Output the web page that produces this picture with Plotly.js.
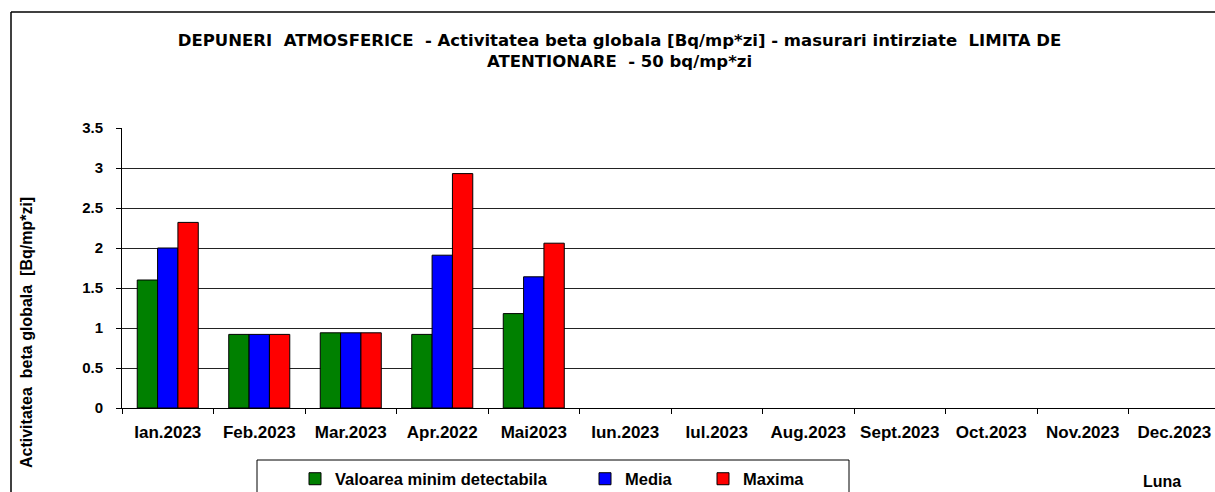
<!DOCTYPE html>
<html>
<head>
<meta charset="utf-8">
<script src="https://cdn.plot.ly/plotly-3.0.1.min.js"></script>
<style>html,body{margin:0;padding:0;background:#fff;}#chart{width:1215px;height:492px;}</style>
</head>
<body>
<div id="chart"></div>
<script>
const months = ['Ian.2023','Feb.2023','Mar.2023','Apr.2022','Mai2023','Iun.2023','Iul.2023','Aug.2023','Sept.2023','Oct.2023','Nov.2023','Dec.2023'];
const minDetectabila = [1.6, 0.92, 0.94, 0.92, 1.18, null, null, null, null, null, null, null];
const media = [2.0, 0.92, 0.94, 1.91, 1.64, null, null, null, null, null, null, null];
const maxima = [2.32, 0.92, 0.94, 2.93, 2.06, null, null, null, null, null, null, null];
const yTicks = [0, 0.5, 1, 1.5, 2, 2.5, 3, 3.5];
const yTickText = ['0','0.5','1','1.5','2','2.5','3','3.5'];

const W = 1215, H = 492;
const L = 122, T = 128, B = 84;
const plotW = W - L, plotH = H - T - B;
const px = x => (x - L) / plotW;
const py = y => (H - B - y) / plotH;
const FONT = 'Liberation Sans, Arial, sans-serif';
const TITLE_FONT = 'DejaVu Sans, Liberation Sans, Arial, sans-serif';

function bar(name, y, color, legend) {
  return {type: 'bar', name: name, x: months, y: y, legend: legend,
    marker: {color: color, line: {color: '#000', width: 1}}, hoverinfo: 'x+y+name'};
}
const data = [
  bar('Valoarea minim detectabila', minDetectabila, '#008000', 'legend'),
  bar('Media', media, '#0000ff', 'legend2'),
  bar('Maxima', maxima, '#ff0000', 'legend3')
];
const legBase = {orientation: 'h', xref: 'container', yref: 'container', xanchor: 'left', yanchor: 'middle',
  bgcolor: 'rgba(0,0,0,0)', borderwidth: 0, font: {family: FONT, size: 16.5, color: '#000', weight: 'bold'}};
const layout = {
  width: W, height: H,
  margin: {l: L, r: 0, t: T, b: B, pad: 0},
  paper_bgcolor: '#fff', plot_bgcolor: '#fff',
  font: {family: FONT, color: '#000'},
  title: {text: 'DEPUNERI  ATMOSFERICE  - Activitatea beta globala [Bq/mp*zi] - masurari intirziate  LIMITA DE<br>ATENTIONARE  - 50 bq/mp*zi',
    font: {family: TITLE_FONT, size: 16.5, weight: 'bold', color: '#000'},
    x: 619.5 / W, xanchor: 'center', xref: 'container', y: 1 - 46 / H, yanchor: 'top', yref: 'container'},
  barmode: 'group', bargap: 0.333, bargroupgap: 0,
  xaxis: {type: 'category', range: [-0.5, 11.445], showgrid: false, showline: true, linecolor: '#000', linewidth: 1,
    ticks: 'outside', tickson: 'boundaries', ticklen: 5, tickcolor: '#000', tickwidth: 1, ticklabelstandoff: 9,
    tickfont: {family: FONT, size: 17, weight: 'bold', color: '#000'}, fixedrange: true, zeroline: false},
  yaxis: {range: [0, 3.5], tickvals: yTicks, ticktext: yTickText, showgrid: true, gridcolor: '#222', gridwidth: 1,
    showline: true, linecolor: '#000', linewidth: 1, ticks: 'outside', ticklen: 5, tickcolor: '#000', ticklabelstandoff: 10,
    tickfont: {family: FONT, size: 15, weight: 'bold', color: '#000'}, zeroline: false, fixedrange: true},
  showlegend: true,
  legend: Object.assign({}, legBase, {x: 295 / W, y: 1 - 479 / H}),
  legend2: Object.assign({}, legBase, {x: 585 / W, y: 1 - 479 / H}),
  legend3: Object.assign({}, legBase, {x: 703 / W, y: 1 - 479 / H}),
  shapes: [
    {type: 'line', xref: 'paper', yref: 'paper', x0: px(11), x1: px(11), y0: py(12), y1: py(500), line: {color: '#000', width: 1.5}},
    {type: 'line', xref: 'paper', yref: 'paper', x0: px(11), x1: px(1220), y0: py(12), y1: py(12), line: {color: '#000', width: 1.5}},
    {type: 'rect', xref: 'paper', yref: 'paper', x0: px(257), x1: px(849), y0: py(460), y1: py(510), line: {color: '#000', width: 1}, fillcolor: 'rgba(0,0,0,0)'}
  ],
  annotations: [
    {text: 'Activitatea  beta globala  [Bq/mp*zi]', textangle: -90, xref: 'paper', yref: 'paper', x: px(26), y: py(333),
      showarrow: false, xanchor: 'center', yanchor: 'middle', font: {family: FONT, size: 16, weight: 'bold', color: '#000'}},
    {text: 'Luna', xref: 'paper', yref: 'paper', x: px(1162), y: py(481), showarrow: false, xanchor: 'center', yanchor: 'middle',
      font: {family: FONT, size: 16, weight: 'bold', color: '#000'}}
  ]
};
Plotly.newPlot('chart', data, layout, {displayModeBar: false, staticPlot: false});
</script>
</body>
</html>
